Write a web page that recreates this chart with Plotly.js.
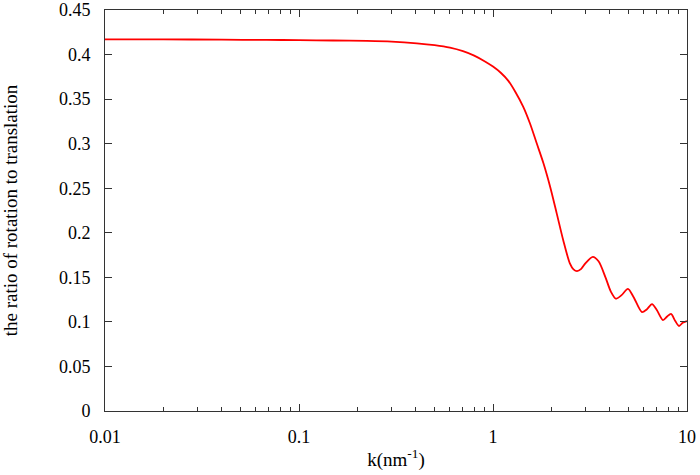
<!DOCTYPE html>
<html>
<head>
<meta charset="utf-8">
<script src="https://cdn.plot.ly/plotly-3.0.1.min.js"></script>
<style>html,body{margin:0;padding:0;background:#fff;}#chart{width:700px;height:475px;}</style>
</head>
<body>
<div id="chart"></div>
<script>
// wavenumber k (nm^-1)
var kValues = [0.01, 0.02, 0.04, 0.0684, 0.1, 0.15, 0.224, 0.3, 0.405, 0.5, 0.6, 0.7, 0.8, 0.9,
  1.0, 1.1, 1.2, 1.3, 1.43, 1.55, 1.68, 1.82, 1.97, 2.13, 2.30, 2.49, 2.60, 2.71, 2.85, 3.0, 3.27,
  3.5, 3.8, 4.05, 4.30, 4.6, 4.96, 5.3, 5.86, 6.2, 6.60, 7.0, 7.52, 7.9, 8.27, 8.7, 9.10, 9.5, 10.0];
// ratio of rotation to translation
var ratioValues = [0.4171, 0.4170, 0.4167, 0.4164, 0.4162, 0.4158, 0.4153, 0.4145, 0.4126, 0.4105, 0.4077, 0.4038, 0.3988, 0.3928,
  0.3865, 0.3793, 0.3705, 0.3585, 0.3416, 0.3229, 0.3004, 0.278, 0.2517, 0.2218, 0.1919, 0.1657, 0.1590, 0.1570, 0.1595, 0.166, 0.173,
  0.168, 0.150, 0.134, 0.126, 0.130, 0.137, 0.128, 0.111, 0.114, 0.120, 0.113, 0.102, 0.106, 0.109, 0.101, 0.0954, 0.099, 0.101];

var xMajorVals = [0.01, 0.1, 1, 10];
var xMajorText = ['0.01', '0.1', '1', '10'];
var xMinorVals = [];
[0.01, 0.1, 1].forEach(function (d) { for (var m = 2; m <= 9; m++) xMinorVals.push(d * m); });

var fontFam = "'Liberation Serif', 'Times New Roman', serif";
var axisColor = '#333';

var traces = [
  {x: kValues, y: ratioValues, type: 'scatter', mode: 'lines',
   line: {color: '#ff0000', width: 1.8, shape: 'spline', smoothing: 0.8}, hoverinfo: 'skip', showlegend: false},
  {x: [0.01, 10], y: [0, 0], xaxis: 'x2', type: 'scatter', mode: 'lines',
   line: {width: 0}, opacity: 0, hoverinfo: 'skip', showlegend: false}
];

var layout = {
  width: 700, height: 475,
  margin: {l: 105, r: 13, t: 10, b: 64},
  paper_bgcolor: '#fff', plot_bgcolor: '#fff',
  font: {family: fontFam, size: 18, color: '#000'},
  showlegend: false,
  xaxis: {
    type: 'log', range: [-2, 1],
    tickvals: xMajorVals, ticktext: xMajorText,
    ticks: 'inside', ticklen: 7, tickwidth: 1, tickcolor: axisColor,
    showline: true, linecolor: axisColor, linewidth: 1, mirror: 'ticks',
    showgrid: false, zeroline: false,
    ticklabelstandoff: 9,
    tickfont: {family: fontFam, size: 18, color: '#000'},
    title: {text: 'k(nm<sup>-1</sup>)', font: {family: fontFam, size: 19, color: '#000'}, standoff: 7},
    automargin: false
  },
  xaxis2: {
    type: 'log', range: [-2, 1], overlaying: 'x',
    tickvals: xMinorVals, showticklabels: false,
    ticks: 'inside', ticklen: 4, tickwidth: 1, tickcolor: axisColor,
    showline: false, mirror: 'ticks', showgrid: false, zeroline: false,
    automargin: false
  },
  yaxis: {
    range: [0, 0.45], dtick: 0.05, tick0: 0,
    ticks: 'inside', ticklen: 7, tickwidth: 1, tickcolor: axisColor,
    showline: true, linecolor: axisColor, linewidth: 1, mirror: 'ticks',
    showgrid: false, zeroline: false,
    ticklabelstandoff: 10,
    tickfont: {family: fontFam, size: 18, color: '#000'},
    title: {text: 'the ratio of rotation to translation', font: {family: fontFam, size: 19, color: '#000'}, standoff: 38},
    automargin: false
  }
};

Plotly.newPlot('chart', traces, layout, {staticPlot: true, displayModeBar: false});
</script>
</body>
</html>
